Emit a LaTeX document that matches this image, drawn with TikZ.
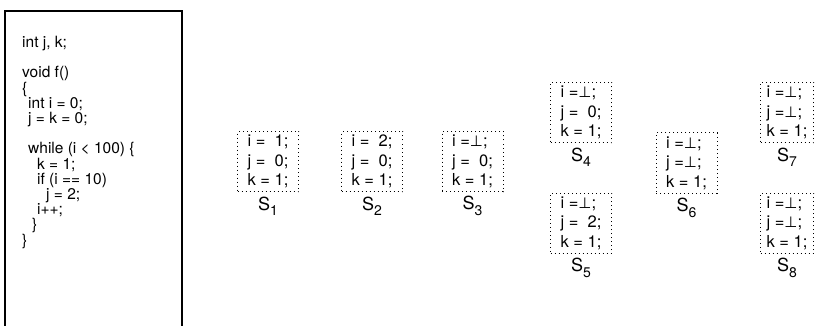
\documentclass[tikz,border=0pt]{standalone}
\usepackage{fontspec}
\setmainfont{TeX Gyre Heros}
\newfontfamily\symfont{DejaVu Sans}
\begin{document}
\begin{tikzpicture}[x=1pt,y=-1pt,
  codebox/.style={draw,line width=1.3pt},
  state/.style={draw,line width=1pt,dash pattern=on 1pt off 3pt,minimum width=61pt,minimum height=60pt,inner sep=0pt,align=left,font=\fontsize{16.5}{19.5}\selectfont},
  slabel/.style={font=\fontsize{18}{18}\selectfont,inner sep=0pt}]
\useasboundingbox (0,0) rectangle (816,326);
% code box
\coordinate (cbl) at (5,326);
\coordinate (ctl) at (5,11);
\coordinate (ctr) at (182,11);
\coordinate (cbr) at (182,326);
\draw[codebox] (cbl) -- (ctl) -- (ctr) -- (cbr);
\node[anchor=north west,inner sep=0pt,align=left,font=\fontsize{15.5}{15.2}\selectfont] (code) at (22,36) {%
int j, k;\\[15.2pt]
void f()\\
\{\\
\hspace*{6pt}int i = 0;\\
\hspace*{6pt}j = k = 0;\\[15.2pt]
\hspace*{6pt}while (i < 100) \{\\
\hspace*{15pt}k = 1;\\
\hspace*{15pt}if (i == 10)\\
\hspace*{24pt}j = 2;\\
\hspace*{15pt}i++;\\
\hspace*{10pt}\}\\
\}};
% states
\newcommand{\bt}{{\symfont\fontsize{15}{15}\selectfont ⊥}}
\newcommand{\sub}[1]{S\raisebox{-0.3em}{\fontsize{14}{14}\selectfont #1}}
\node[state] (s1) at (268,161.5) {i =\ \ 1;\\ j =\ \ 0;\\ k = 1;};
\node[state] (s2) at (372,161.5) {i =\ \ 2;\\ j =\ \ 0;\\ k = 1;};
\node[state] (s3) at (472.5,161.5) {i =\bt;\\ j =\ \ 0;\\ k = 1;};
\node[state] (s4) at (581,112.5) {i =\bt;\\ j =\ \ 0;\\ k = 1;};
\node[state] (s5) at (581,223) {i =\bt;\\ j =\ \ 2;\\ k = 1;};
\node[state] (s6) at (686.5,163) {i =\bt;\\ j =\bt;\\ k = 1;};
\node[state,minimum width=53pt] (s7) at (787,112.5) {i =\bt;\\ j =\bt;\\ k = 1;};
\node[state,minimum width=53pt] (s8) at (787,223) {i =\bt;\\ j =\bt;\\ k = 1;};
\node[slabel] (l1) at (268,206) {\sub{1}};
\node[slabel] (l2) at (372,206) {\sub{2}};
\node[slabel] (l3) at (472.5,206) {\sub{3}};
\node[slabel] (l4) at (581,157) {\sub{4}};
\node[slabel] (l5) at (581,268) {\sub{5}};
\node[slabel] (l6) at (686.5,208) {\sub{6}};
\node[slabel] (l7) at (787,157) {\sub{7}};
\node[slabel] (l8) at (787,268) {\sub{8}};
\end{tikzpicture}
\end{document}
